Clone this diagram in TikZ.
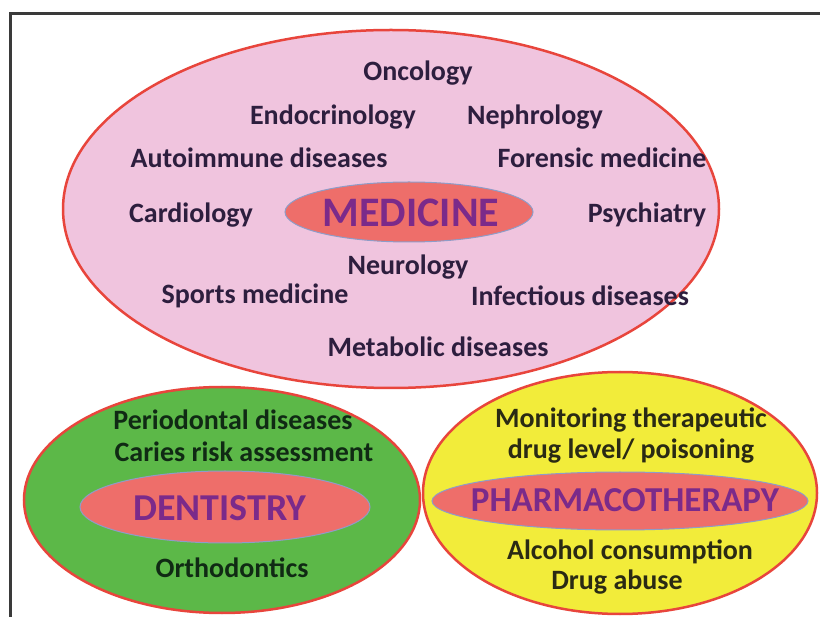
\documentclass[tikz,border=0pt]{standalone}
\usepackage{fontspec}
\setmainfont{Carlito}
\definecolor{pinkfill}{HTML}{F0C4DE}
\definecolor{rimred}{HTML}{E8453C}
\definecolor{salmon}{HTML}{EE6E6A}
\definecolor{innerrim}{HTML}{8E9CC8}
\definecolor{greenfill}{HTML}{5CB848}
\definecolor{yellowfill}{HTML}{F2EC3A}
\definecolor{titlepurple}{HTML}{7B2A8A}
\definecolor{medtext}{HTML}{2D1E3E}
\definecolor{dentext}{HTML}{102A14}
\definecolor{phatext}{HTML}{2A2A14}
\definecolor{frame}{HTML}{3A3A3A}
\tikzset{
  outer/.style={draw=rimred, line width=2.5pt},
  inner/.style={draw=innerrim, line width=1pt, fill=salmon},
  lbl/.style={font=\fontsize{28}{30}\selectfont\bfseries, inner sep=0pt},
  ttl/.style={font=\fontsize{#1}{#1}\selectfont\bfseries, text=titlepurple, inner sep=0pt},
}
\begin{document}
\begin{tikzpicture}[x=1pt,y=-1pt]
\useasboundingbox (0,0) rectangle (820,617);
\fill[white] (0,0) rectangle (820,617);
% frame
\draw[frame, line width=3pt] (10,617) -- (10,14) -- (820,14);
% lower ellipses
\draw[outer, fill=greenfill] (222,500) ellipse [x radius=198, y radius=113];
\draw[outer, fill=yellowfill] (620,493) ellipse [x radius=197, y radius=121];
% medicine ellipse
\draw[outer, fill=pinkfill] (391,209) ellipse [x radius=328, y radius=179];
% inner ellipses
\draw[inner] (409,212) ellipse [x radius=124, y radius=30];
\draw[inner] (225,507) ellipse [x radius=145, y radius=36];
\draw[inner] (620,501) ellipse [x radius=188, y radius=29];
% titles
\node[ttl=42] (med) at (411,213) {MEDICINE};
\node[ttl=38] (den) at (220,508) {DENTISTRY};
\node[ttl=35] (pha) at (625,500) {PHARMACOTHERAPY};
% medicine labels
\begin{scope}[lbl, text=medtext]
\node (onc) at (418,73) {Oncology};
\node (endo) at (333,117) {Endocrinology};
\node (neph) at (535,117) {Nephrology};
\node (auto) at (259,158) {Autoimmune diseases};
\node (fore) at (602,158) {Forensic medicine};
\node (card) at (191,215) {Cardiology};
\node (psy) at (647,215) {Psychiatry};
\node (neu) at (408,267) {Neurology};
\node (spo) at (255,296) {Sports medicine};
\node (inf) at (580,296) {Infectious diseases};
\node (met) at (438,347) {Metabolic diseases};
\end{scope}
% dentistry labels
\begin{scope}[lbl, text=dentext]
\node (peri) at (233,420) {Periodontal diseases};
\node (car) at (244,452) {Caries risk assessment};
\node (orth) at (232,568) {Orthodontics};
\end{scope}
% pharmacotherapy labels
\begin{scope}[lbl, text=phatext]
\node (mon) at (631,420) {Monitoring therapeutic};
\node (drl) at (631,451) {drug level/ poisoning};
\node (alc) at (630,552) {Alcohol consumption};
\node (dab) at (617,582) {Drug abuse};
\end{scope}
\end{tikzpicture}
\end{document}
